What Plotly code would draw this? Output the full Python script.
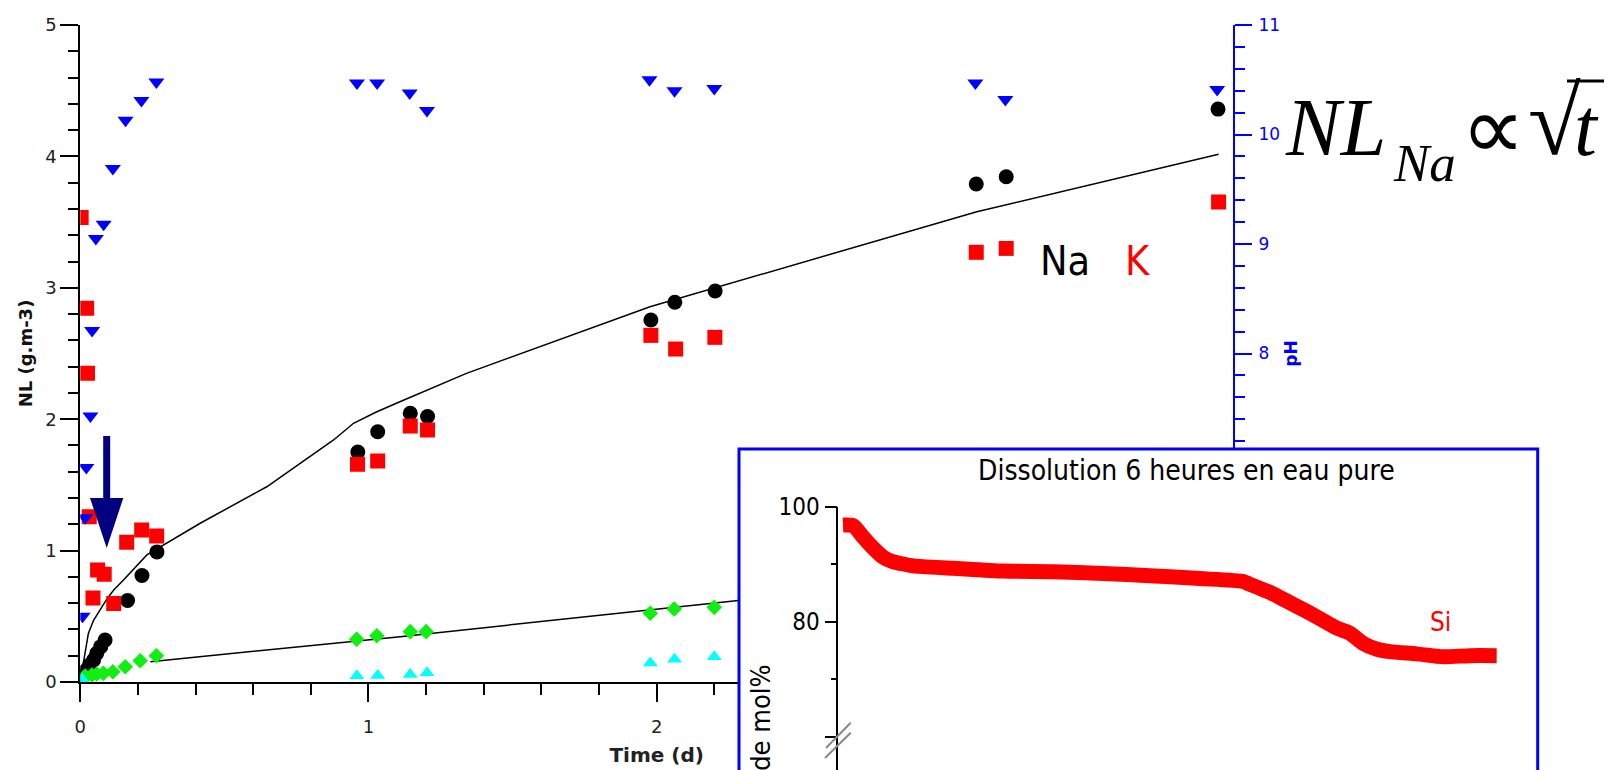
import plotly.graph_objects as go

W, H = 1616, 770

# ---------------- main chart data (time in days) ----------------
t_na = [0.011, 0.021, 0.032, 0.046, 0.057, 0.071, 0.086, 0.164, 0.214, 0.266,
        0.963, 1.032, 1.145, 1.205, 1.98, 2.063, 2.203, 3.109, 3.213, 3.948]
na = [0.053, 0.091, 0.129, 0.167, 0.218, 0.269, 0.32, 0.62, 0.81, 0.99,
      1.75, 1.905, 2.045, 2.02, 2.755, 2.89, 2.976, 3.79, 3.845, 4.36]

t_k = [0.003, 0.022, 0.025, 0.031, 0.044, 0.06, 0.083, 0.116, 0.161, 0.213, 0.265,
       0.962, 1.032, 1.145, 1.205, 1.98, 2.066, 2.202, 3.109, 3.213, 3.95]
k = [3.535, 2.844, 2.35, 1.258, 0.64, 0.852, 0.82, 0.597, 1.063, 1.157, 1.111,
     1.657, 1.682, 1.948, 1.918, 2.638, 2.534, 2.623, 3.27, 3.30, 3.653]

t_green = [0.017, 0.040, 0.057, 0.080, 0.113, 0.156, 0.208, 0.264,
           0.959, 1.029, 1.145, 1.20, 1.978, 2.061, 2.2]
green = [0.046, 0.053, 0.061, 0.066, 0.078, 0.116, 0.162, 0.200,
         0.325, 0.352, 0.383, 0.383, 0.523, 0.556, 0.568]

t_cyan = [0.007, 0.96, 1.032, 1.145, 1.203, 1.978, 2.062, 2.2]
cyan = [0.02, 0.047, 0.05, 0.057, 0.071, 0.145, 0.173, 0.193]

t_ph = [0.008, 0.017, 0.021, 0.035, 0.041, 0.054, 0.081, 0.113, 0.157, 0.212, 0.264,
        0.960, 1.03, 1.143, 1.203, 1.975, 2.062, 2.2, 3.106, 3.21, 3.945]
ph = [5.60, 6.50, 6.96, 7.43, 8.21, 9.05, 9.18, 9.69, 10.13, 10.31, 10.48,
      10.47, 10.47, 10.38, 10.22, 10.50, 10.40, 10.42, 10.47, 10.32, 10.41]

# fitted curves
t_na_fit = [0.011, 0.017, 0.028, 0.046, 0.069, 0.093, 0.116, 0.150, 0.231, 0.30,
            0.416, 0.647, 0.879, 0.948, 1.029, 1.109, 1.34, 1.977, 2.671, 3.111, 3.95]
na_fit = [0.15, 0.24, 0.37, 0.47, 0.55, 0.635, 0.70, 0.776, 0.967, 1.056,
          1.208, 1.486, 1.842, 1.969, 2.057, 2.133, 2.349, 2.856, 3.30, 3.579, 4.016]
t_green_fit = [0.243, 1.11, 2.3]
green_fit = [0.155, 0.345, 0.625]

# ---------------- inset data (hours) ----------------
h_si = [0.0, 0.094, 0.185, 0.277, 0.368, 0.459, 0.52, 0.642, 1.007, 1.464, 1.920,
        2.377, 2.804, 3.258, 3.656, 3.717, 3.808, 3.90, 4.021, 4.265, 4.509, 4.63,
        4.752, 4.87, 4.995, 5.239, 5.482, 5.726, 5.97]
si = [96.8, 96.7, 94.7, 92.8, 91.2, 90.4, 90.15, 89.7, 89.3, 88.8, 88.7,
      88.4, 88.0, 87.5, 87.0, 86.5, 85.8, 85.1, 83.9, 81.5, 78.9, 78.0,
      76.2, 75.25, 74.8, 74.4, 73.9, 74.1, 74.1]

main_x_ticks = [0, 1, 2, 3, 4]
ph_ticks = [5, 6, 7, 8, 9, 10, 11]
inset_ticks = [60, 80, 100]
inset_ticktext = ['', '80', '100']


def px(x):
    return x / W


def py(y):
    return 1 - y / H


FONT = "DejaVu Sans, Verdana, sans-serif"
CFONT = "DejaVu Sans Condensed, DejaVu Sans, sans-serif"
SERIF = "Liberation Serif, Times New Roman, serif"

fig = go.Figure()

fig.add_trace(go.Scatter(x=t_na_fit, y=na_fit, mode='lines',
                         line=dict(color='black', width=1.5), hoverinfo='skip'))
fig.add_trace(go.Scatter(x=t_green_fit, y=green_fit, mode='lines',
                         line=dict(color='black', width=1.5), hoverinfo='skip'))
fig.add_trace(go.Scatter(x=t_na, y=na, mode='markers', name='Na',
                         marker=dict(symbol='circle', size=15, color='black')))
fig.add_trace(go.Scatter(x=t_k, y=k, mode='markers', name='K',
                         marker=dict(symbol='square', size=15, color='#ff0000')))
fig.add_trace(go.Scatter(x=t_green, y=green, mode='markers',
                         marker=dict(symbol='diamond', size=12, color='#11ee11')))
fig.add_trace(go.Scatter(x=t_cyan, y=cyan, mode='markers',
                         marker=dict(symbol='triangle-up', size=13, color='#00ffff')))
fig.add_trace(go.Scatter(x=t_ph, y=ph, mode='markers', yaxis='y3', name='pH',
                         marker=dict(symbol='triangle-down', size=14, color='#0000ff')))
# empty trace on the label axis (time-axis labels sit slightly lower than ticks)
fig.add_trace(go.Scatter(x=[None], y=[None], xaxis='x4', yaxis='y', hoverinfo='skip'))

# cover subplot (white background for the inset frame)
fig.add_trace(go.Scatter(x=[None], y=[None], xaxis='x2', yaxis='y2',
                         hoverinfo='skip'))
# inset
fig.add_trace(go.Scatter(x=h_si, y=si, xaxis='x3', yaxis='y4', mode='lines',
                         line=dict(color='#ff0000', width=15, shape='spline',
                                   smoothing=0.6), name='Si'))

axis_common = dict(showgrid=False, zeroline=False, showline=True, ticks='outside',
                   automargin=False)

fig.update_layout(
    width=W, height=H,
    margin=dict(l=0, r=0, t=0, b=0, pad=0, autoexpand=False),
    paper_bgcolor='white', plot_bgcolor='white',
    showlegend=False,
    font=dict(family=FONT, color='#222222'),
    xaxis=dict(**axis_common, domain=[px(80.3), px(1233)], range=[0, 4], anchor='y',
               linecolor='black', linewidth=2, tickcolor='black', tickwidth=2,
               ticklen=18, tickvals=main_x_ticks, showticklabels=False,
               minor=dict(dtick=0.2, tick0=0, ticklen=11, tickwidth=2,
                          tickcolor='black', ticks='outside')),
    xaxis4=dict(overlaying='x', anchor='free', position=py(692), range=[0, 4],
                showgrid=False, zeroline=False, showline=False, automargin=False,
                ticks='outside', ticklen=18, tickcolor='rgba(0,0,0,0)',
                tickvals=main_x_ticks,
                tickfont=dict(size=18, color='#222222'),
                title=dict(text='<b>Time (d)</b>', font=dict(size=20, color='#222222'),
                           standoff=12)),
    yaxis=dict(**axis_common, domain=[py(682), py(25)], range=[0, 5], anchor='x',
               linecolor='black', linewidth=2, tickcolor='black', tickwidth=2,
               ticklen=18, dtick=1, tick0=0,
               minor=dict(dtick=0.2, tick0=0, ticklen=10, tickwidth=2,
                          tickcolor='black', ticks='outside'),
               tickfont=dict(size=18, color='#222222'),
               title=dict(text='<b>NL (g.m-3)</b>', font=dict(size=18, color='#111111'),
                          standoff=8)),
    yaxis3=dict(**axis_common, overlaying='y', side='right', anchor='x',
                range=[5, 11], tickvals=ph_ticks, ticklabelstandoff=3,
                linecolor='#0000ff', linewidth=2, tickcolor='#0000ff', tickwidth=2,
                ticklen=17,
                minor=dict(dtick=0.2, tick0=5, ticklen=10, tickwidth=2,
                           tickcolor='#0000ff', ticks='outside'),
                tickfont=dict(size=17, color='#0000ff'),
                title=dict(text='<b>pH</b>', font=dict(size=17, color='#0000ff'),
                           standoff=6)),
    xaxis2=dict(domain=[px(739), px(1537.7)], anchor='y2', visible=False, range=[0, 1]),
    yaxis2=dict(domain=[0, py(449)], anchor='x2', visible=False, range=[0, 1]),
    xaxis3=dict(domain=[px(838.3), px(1520)], anchor='y4', visible=False,
                range=[-0.043, 6.183]),
    yaxis4=dict(**axis_common, domain=[0, py(506.7)], anchor='x3', range=[54.21, 100],
                linecolor='black', linewidth=1.5, tickcolor='black', tickwidth=1.5,
                ticklen=12, tickvals=inset_ticks, ticktext=inset_ticktext,
                minor=dict(tickvals=[70, 90], ticklen=6, tickwidth=1.5,
                           tickcolor='black', ticks='outside'),
                tickfont=dict(family=CFONT, size=24, color='black')),
)

shapes = []
# inset frame
shapes.append(dict(type='rect', xref='paper', yref='paper',
                   x0=px(739), x1=px(1537.7), y0=py(800), y1=py(449),
                   line=dict(color='#0000ff', width=3), fillcolor='rgba(0,0,0,0)',
                   layer='above'))
# axis break marks
for (xa, ya, xb, yb) in [(826, 748, 850.7, 722.7), (825, 758, 850.7, 732.7)]:
    shapes.append(dict(type='line', xref='paper', yref='paper',
                       x0=px(xa), y0=py(ya), x1=px(xb), y1=py(yb),
                       line=dict(color='#888888', width=2), layer='above'))
# navy arrow
arrow_pts = [(103.2, 436), (110.2, 436), (110.2, 498), (123.3, 498), (106.7, 548),
             (90.0, 498), (103.2, 498)]
path = 'M ' + ' L '.join(f'{px(a):.5f},{py(b):.5f}' for a, b in arrow_pts) + ' Z'
shapes.append(dict(type='path', xref='paper', yref='paper', path=path,
                   fillcolor='#000080', line=dict(color='#000080', width=0),
                   layer='above'))
# vinculum of the square root
shapes.append(dict(type='line', xref='paper', yref='paper',
                   x0=px(1567), y0=py(81), x1=px(1604), y1=py(81),
                   line=dict(color='black', width=3), layer='above'))
fig.update_layout(shapes=shapes)

anns = []


def ann(x, y, text, size, color='black', family=CFONT, xanchor='left',
        yanchor='middle', angle=0):
    anns.append(dict(x=px(x), y=py(y), xref='paper', yref='paper', text=text,
                     showarrow=False, xanchor=xanchor, yanchor=yanchor,
                     textangle=angle, font=dict(family=family, size=size, color=color)))


ann(1038, 261, 'Na', 41, 'black')
ann(1123, 261, 'K', 41, '#ff0000')
ann(1440, 622, 'Si', 26, '#ff0000', xanchor='center')
ann(1186.7, 470, 'Dissolution 6 heures en eau pure', 28, 'black', xanchor='center')
ann(761, 662.7, 'Oxyde mol%', 27, 'black', xanchor='center', yanchor='top', angle=-90)
# formula NL_Na ∝ √t
ann(1283, 127, '<i>NL</i>', 82, 'black', family=SERIF)
ann(1391, 163, '<i>Na</i>', 53, 'black', family=SERIF)
ann(1459, 128, '∝', 90, 'black', family=SERIF)
ann(1526, 122, '√', 96, 'black', family=SERIF)
ann(1572, 127, '<i>t</i>', 82, 'black', family=SERIF)
fig.update_layout(annotations=anns)

fig.write_html("out.html", config={'displayModeBar': False},
               post_script="document.body.style.margin='0px';"
                           "document.body.style.overflow='hidden';")
